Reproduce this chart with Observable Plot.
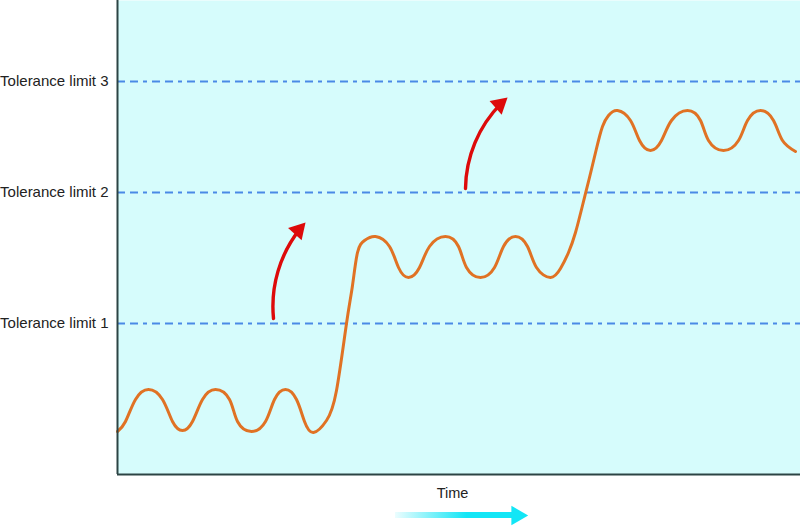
<!DOCTYPE html>
<html>
<head>
<meta charset="utf-8">
<script src="https://cdn.jsdelivr.net/npm/d3@7"></script>
<script src="https://cdn.jsdelivr.net/npm/@observablehq/plot@0.6"></script>
<style>
  html, body { margin: 0; padding: 0; background: #fff; }
  #chart { width: 800px; height: 526px; }
</style>
</head>
<body>
<div id="chart"></div>
<script>
// Process level over time, with three tolerance limits.
const limitLevels = [151, 282, 393];
const limitLabels = ["Tolerance limit 1", "Tolerance limit 2", "Tolerance limit 3"];

// Measured process trace: time and level.
const traceTime  = [0, 8, 18, 31, 45, 55, 65, 75, 85, 98, 112, 120, 134, 148, 157, 168, 179, 187, 196,
                    209, 219, 229, 235, 240, 247, 258,
                    272, 281, 291, 302, 312, 328, 341, 349, 363, 377, 386, 398, 410, 419, 433,
                    443, 451, 458, 465, 472, 479, 485, 491, 500,
                    513, 522, 533, 544, 554, 570, 583, 591, 606, 621, 630, 643, 656, 665, 678];
const traceLevel = [43, 53, 75, 85, 75, 53, 44, 53, 75, 85, 75, 53, 43, 53, 75, 85, 75, 53, 42,
                    54, 84, 151, 189, 222, 234, 238,
                    228, 207, 197, 207, 228, 238, 228, 207, 197, 207, 228, 238, 228, 207, 197,
                    206, 222, 242, 269, 297, 326, 348, 359, 364,
                    354, 334, 324, 334, 354, 364, 354, 334, 324, 334, 354, 364, 354, 334, 323];

// Step-change arrows: start and tip.
const stepStartTime  = [156, 348];
const stepStartLevel = [156, 286];
const stepEndTime    = [188, 390];
const stepEndLevel   = [252, 377];
const stepBend = 24;

// Time axis arrow below the chart.
const timeLabel = ["Time"];
const timeArrowFrom = 278, timeArrowTo = 411, timeArrowLevel = -41;

const trace = traceTime.map((t, i) => ({t, v: traceLevel[i]}));
const steps = stepStartTime.map((t, i) => {
  const s = {t1: t, v1: stepStartLevel[i], t2: stepEndTime[i], v2: stepEndLevel[i]};
  // heading at the tip (screen degrees; one unit is one pixel on both axes)
  const chord = Math.atan2(-(s.v2 - s.v1), s.t2 - s.t1) * 180 / Math.PI;
  const heading = chord + stepBend;
  const back = 10.5; // centroid offset of the triangle head
  const rad = heading * Math.PI / 180;
  s.ht = s.t2 - back * Math.cos(rad);
  s.hv = s.v2 + back * Math.sin(rad);
  s.rot = heading + 90;
  return s;
});
const limits = limitLevels.map((v, i) => ({v, label: limitLabels[i]}));

const gradientDefs = () => {
  const defs = d3.create("svg:defs");
  const g = defs.append("linearGradient").attr("id", "timeGrad")
    .attr("x1", 0).attr("x2", 1).attr("y1", 0).attr("y2", 0);
  g.append("stop").attr("offset", "0%").attr("stop-color", "#12e6f6").attr("stop-opacity", 0.08);
  g.append("stop").attr("offset", "60%").attr("stop-color", "#12e6f6").attr("stop-opacity", 1);
  g.append("stop").attr("offset", "100%").attr("stop-color", "#12e6f6").attr("stop-opacity", 1);
  return defs.node();
};

const chart = Plot.plot({
  width: 800,
  height: 526,
  marginLeft: 117,
  marginRight: 0,
  marginTop: 0,
  marginBottom: 52,
  style: {fontFamily: "'Liberation Sans', Arial, Helvetica, sans-serif", fontSize: "15px", color: "#222", background: "#fff"},
  x: {domain: [0, 683], range: [117, 800], axis: null},
  y: {domain: [0, 474], range: [474, 0], axis: null},
  marks: [
    gradientDefs,
    Plot.frame({fill: "#d6fcfc", stroke: "none"}),
    Plot.ruleY(limits, {y: "v", stroke: "#4a8ae6", strokeWidth: 1.8, strokeDasharray: "8,5,8,5,4,5"}),
    Plot.text(limits, {x: 0, y: "v", text: "label", textAnchor: "end", dx: -9,
                       fontSize: 15, fill: "#222"}),
    Plot.line(trace, {x: "t", y: "v", curve: "natural", stroke: "#e07224", strokeWidth: 3}),
    Plot.arrow(steps, {x1: "t1", y1: "v1", x2: "t2", y2: "v2", bend: stepBend,
                       stroke: "#dd0a0a", strokeWidth: 3.4, headLength: 0, insetEnd: 9}),
    Plot.dot(steps, {x: "ht", y: "hv", rotate: "rot", symbol: "triangle", r: 6.8,
                     fill: "#dd0a0a", stroke: "none"}),
    Plot.ruleX([0], {stroke: "#2c4444", strokeWidth: 2}),
    Plot.ruleY([0], {stroke: "#2c4444", strokeWidth: 2}),
    Plot.text(timeLabel, {x: [335], y: [-19], text: d => d, fontSize: 14.5, fill: "#222"}),
    Plot.rect([0], {x1: [timeArrowFrom], x2: [timeArrowTo - 14], y1: [timeArrowLevel - 3], y2: [timeArrowLevel + 3],
                    fill: "url(#timeGrad)"}),
    Plot.dot([0], {x: [timeArrowTo - 11.5], y: [timeArrowLevel], rotate: 90, symbol: "triangle", r: 7.2,
                   fill: "#12e6f6", stroke: "none"})
  ]
});
document.getElementById("chart").appendChild(chart);
</script>
</body>
</html>
